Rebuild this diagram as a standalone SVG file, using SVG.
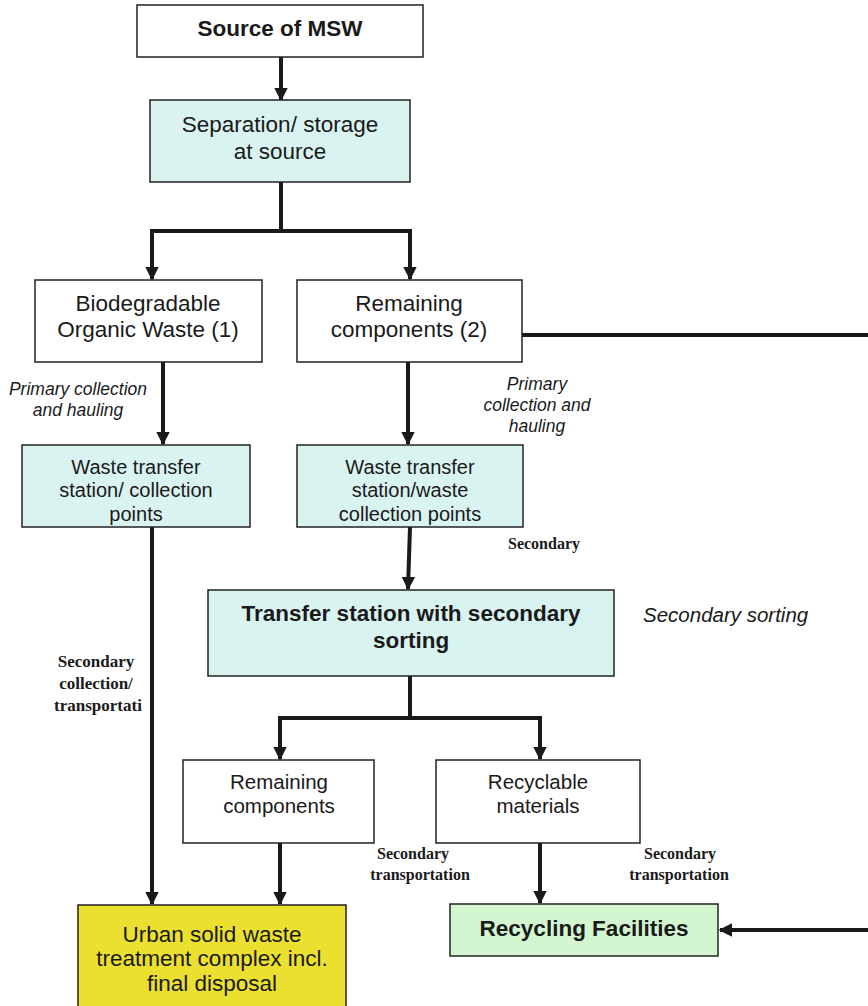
<svg xmlns="http://www.w3.org/2000/svg" width="868" height="1006" viewBox="0 0 868 1006">
<style>
.box{stroke:#222;stroke-width:1.5}
.w{fill:#fff}.c{fill:#d9f3f1}.y{fill:#ebe030}.g{fill:#d3f5d0}
text{font-family:"Liberation Sans",Arial,sans-serif;fill:#1a1a1a;text-anchor:middle}
.b{font-weight:bold}
.i{font-style:italic;font-size:17.5px}
.s{font-family:"Liberation Serif","Times New Roman",serif;font-weight:bold;font-size:16px}
.s2{font-size:17px}
.ln{fill:none;stroke:#1a1a1a;stroke-width:4}
</style>
<defs>
<marker id="ah" viewBox="0 0 10 10" refX="9" refY="5" markerWidth="3.4" markerHeight="3.6" orient="auto" markerUnits="strokeWidth">
<path d="M0,0 L10,5 L0,10 z" fill="#1a1a1a"/>
</marker>
</defs>
<g id="connectors">
<path class="ln" d="M281,57 V100" marker-end="url(#ah)"/>
<path class="ln" d="M281,182 V231 H152 V279" marker-end="url(#ah)"/>
<path class="ln" d="M281,231 H410 V279" marker-end="url(#ah)"/>
<path class="ln" d="M163,362 V444" marker-end="url(#ah)"/>
<path class="ln" d="M408,362 V444" marker-end="url(#ah)"/>
<path class="ln" d="M410,527 L408,589" marker-end="url(#ah)"/>
<path class="ln" d="M152,527 V904" marker-end="url(#ah)"/>
<path class="ln" d="M410,676 V718 H280 V759" marker-end="url(#ah)"/>
<path class="ln" d="M410,718 H540 V759" marker-end="url(#ah)"/>
<path class="ln" d="M280,843 V904" marker-end="url(#ah)"/>
<path class="ln" d="M540,843 V903" marker-end="url(#ah)"/>
<path class="ln" d="M522,335 H868"/>
<path class="ln" d="M868,930 H720" marker-end="url(#ah)"/>
</g>
<g id="n1"><rect class="box w" x="137" y="5" width="286" height="52"/><text class="b" x="280" y="36" font-size="22.5">Source of MSW</text></g>
<g id="n2"><rect class="box c" x="150" y="100" width="260" height="82"/><text x="280" y="132" font-size="22.5">Separation/ storage</text><text x="280" y="159" font-size="22.5">at source</text></g>
<g id="n3"><rect class="box w" x="35" y="280" width="227" height="82"/><text x="148" y="311" font-size="22.5">Biodegradable</text><text x="148" y="337" font-size="22.5">Organic Waste  (1)</text></g>
<g id="n4"><rect class="box w" x="297" y="280" width="225" height="82"/><text x="409" y="311" font-size="22.5">Remaining</text><text x="409" y="337" font-size="22.5">components (2)</text></g>
<g id="n5"><rect class="box c" x="22" y="445" width="228" height="82"/><text x="136" y="474" font-size="20">Waste transfer</text><text x="136" y="497" font-size="20">station/ collection</text><text x="136" y="521" font-size="20">points</text></g>
<g id="n6"><rect class="box c" x="297" y="445" width="226" height="82"/><text x="410" y="474" font-size="20">Waste transfer</text><text x="410" y="497" font-size="20">station/waste</text><text x="410" y="521" font-size="20">collection points</text></g>
<g id="n7"><rect class="box c" x="208" y="590" width="406" height="86"/><text class="b" x="411" y="621" font-size="22.5">Transfer station with secondary</text><text class="b" x="411" y="648" font-size="22.5">sorting</text></g>
<g id="n8"><rect class="box w" x="183" y="760" width="191" height="83"/><text x="279" y="789" font-size="20.5">Remaining</text><text x="279" y="813" font-size="20.5">components</text></g>
<g id="n9"><rect class="box w" x="436" y="760" width="204" height="83"/><text x="538" y="789" font-size="20.5">Recyclable</text><text x="538" y="813" font-size="20.5">materials</text></g>
<g id="n10"><rect class="box y" x="78" y="905" width="268" height="110"/><text x="212" y="942" font-size="22.5">Urban solid waste</text><text x="212" y="966" font-size="22.5">treatment complex incl.</text><text x="212" y="991" font-size="22.5">final disposal</text></g>
<g id="n11"><rect class="box g" x="450" y="904" width="268" height="52"/><text class="b" x="584" y="936" font-size="22.5">Recycling Facilities</text></g>
<g id="labels">
<text class="i" x="78" y="395">Primary collection</text><text class="i" x="78" y="416">and hauling</text>
<text class="i" x="537" y="390">Primary</text><text class="i" x="537" y="411">collection and</text><text class="i" x="537" y="432">hauling</text>
<text class="s" x="544" y="549">Secondary</text>
<text x="643" y="622" font-size="20.5" font-style="italic" style="text-anchor:start">Secondary sorting</text>
<text class="s s2" x="96" y="667">Secondary</text><text class="s s2" x="96" y="689">collection/</text><text class="s s2" x="98" y="711">transportati</text>
<text class="s" x="413" y="859">Secondary</text><text class="s" x="420" y="880">transportation</text>
<text class="s" x="680" y="859">Secondary</text><text class="s" x="679" y="880">transportation</text>
</g>
</svg>
